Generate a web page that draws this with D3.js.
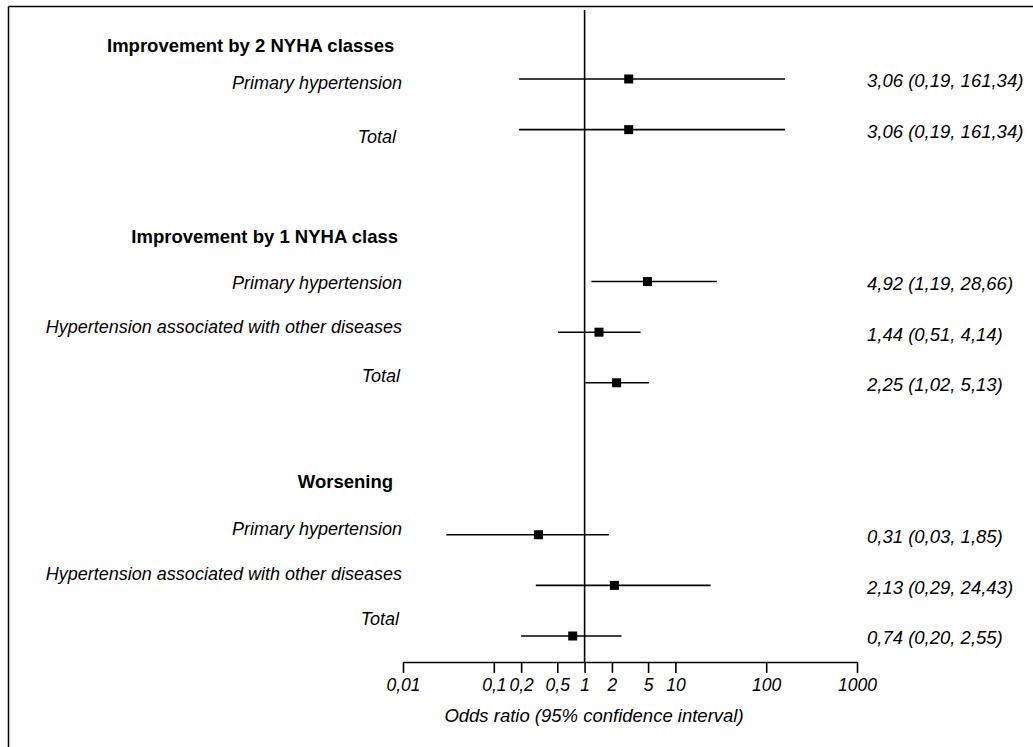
<!DOCTYPE html>
<html>
<head>
<meta charset="utf-8">
<script src="https://cdn.jsdelivr.net/npm/d3@7"></script>
<style>
  html, body { margin: 0; padding: 0; background: #fff; }
  svg { display: block; }
  text { font-family: "Liberation Sans", Arial, sans-serif; fill: #000; }
</style>
</head>
<body>
<svg id="chart" width="1033" height="747"></svg>
<script>
// ---- data ----
const groupTitles = ["Improvement by 2 NYHA classes", "Improvement by 1 NYHA class", "Worsening"];
const rowGroup   = [0, 0, 1, 1, 1, 2, 2, 2];
const rowLabels  = ["Primary hypertension", "Total",
                    "Primary hypertension", "Hypertension associated with other diseases", "Total",
                    "Primary hypertension", "Hypertension associated with other diseases", "Total"];
const oddsRatio  = [3.06, 3.06, 4.92, 1.44, 2.25, 0.31, 2.13, 0.74];
const ciLower    = [0.19, 0.19, 1.19, 0.51, 1.02, 0.03, 0.29, 0.20];
const ciUpper    = [161.34, 161.34, 28.66, 4.14, 5.13, 1.85, 24.43, 2.55];
const tickValues = [0.01, 0.1, 0.2, 0.5, 1, 2, 5, 10, 100, 1000];
const tickLabels = ["0,01", "0,1", "0,2", "0,5", "1", "2", "5", "10", "100", "1000"];
const axisTitle  = "Odds ratio (95% confidence interval)";

// ---- layout ----
const svg = d3.select("#chart");
const x = d3.scaleLog().domain([0.01, 1000]).range([403, 857]);
// row index: rows within a group are consecutive, two blank rows between groups
const rowIndex = [];
{
  let idx = 0;
  rowGroup.forEach((g, i) => {
    if (i > 0 && g !== rowGroup[i - 1]) idx += 3; else if (i > 0) idx += 1;
    rowIndex.push(idx);
  });
}
const y = d3.scaleLinear().domain([0, 11]).range([79, 636]);
const axisY = 662;

const fmt = v => d3.format(".2f")(v).replace(".", ",");

// frame (top and left edges)
svg.append("line").attr("x1", 8.5).attr("x2", 1033).attr("y1", 6.5).attr("y2", 6.5)
  .attr("stroke", "#000").attr("stroke-width", 1.5);
svg.append("line").attr("x1", 8.5).attr("x2", 8.5).attr("y1", 6.5).attr("y2", 747)
  .attr("stroke", "#000").attr("stroke-width", 1.5);

// reference line at OR = 1
svg.append("line")
  .attr("x1", x(1)).attr("x2", x(1)).attr("y1", 10).attr("y2", axisY)
  .attr("stroke", "#000").attr("stroke-width", 1.6);

// axis
const axis = d3.axisBottom(x).tickValues(tickValues)
  .tickFormat((d, i) => tickLabels[i]).tickSize(11).tickSizeOuter(0);
const gAxis = svg.append("g").attr("transform", `translate(0,${axisY})`).call(axis);
gAxis.select(".domain").attr("stroke", "#000").attr("stroke-width", 1.6);
gAxis.selectAll(".tick line").attr("stroke", "#000").attr("stroke-width", 1.6);
gAxis.selectAll(".tick text")
  .attr("y", 23).attr("dy", "0.32em")
  .style("font-family", "'Liberation Sans', Arial, sans-serif")
  .style("font-size", "17.5px").style("font-style", "italic").attr("fill", "#000");

svg.append("text").attr("x", 594).attr("y", 716).attr("dy", "0.35em")
  .attr("text-anchor", "middle").style("font-size", "18.5px").style("font-style", "italic")
  .text(axisTitle);

// group headers
const headerPos = [
  { x: 107, anchor: "start", y: 46 },
  { x: 398, anchor: "end", y: 237 },
  { x: 393, anchor: "end", y: 482 }
];
svg.selectAll("text.header").data(groupTitles).join("text")
  .attr("class", "header")
  .attr("x", (d, i) => headerPos[i].x)
  .attr("y", (d, i) => headerPos[i].y)
  .attr("dy", "0.35em")
  .attr("text-anchor", (d, i) => headerPos[i].anchor)
  .style("font-size", "18.5px").style("font-weight", "bold")
  .text(d => d);

// rows
const rows = rowLabels.map((label, i) => ({
  label, idx: rowIndex[i], or: oddsRatio[i], lo: ciLower[i], hi: ciUpper[i]
}));
const labelShift = [4, 7, 1, -5, -7, -6, -12, -17];
const labelRight = [402, 396, 402, 402, 400, 402, 402, 399];

svg.selectAll("text.rowlabel").data(rows).join("text")
  .attr("class", "rowlabel")
  .attr("x", (d, i) => labelRight[i])
  .attr("y", (d, i) => y(d.idx) + labelShift[i])
  .attr("dy", "0.35em")
  .attr("text-anchor", "end")
  .style("font-size", "18px").style("font-style", "italic")
  .text(d => d.label);

svg.selectAll("line.ci").data(rows).join("line")
  .attr("class", "ci")
  .attr("x1", d => x(d.lo)).attr("x2", d => x(d.hi))
  .attr("y1", d => y(d.idx)).attr("y2", d => y(d.idx))
  .attr("stroke", "#000").attr("stroke-width", 1.6);

const sq = 9;
svg.selectAll("rect.pt").data(rows).join("rect")
  .attr("class", "pt")
  .attr("x", d => x(d.or) - sq / 2).attr("y", d => y(d.idx) - sq / 2)
  .attr("width", sq).attr("height", sq).attr("fill", "#000");

svg.selectAll("text.est").data(rows).join("text")
  .attr("class", "est")
  .attr("x", 867)
  .attr("y", d => y(d.idx) + 2)
  .attr("dy", "0.35em")
  .style("font-size", "18.5px").style("font-style", "italic")
  .text(d => `${fmt(d.or)} (${fmt(d.lo)}, ${fmt(d.hi)})`);
</script>
</body>
</html>
